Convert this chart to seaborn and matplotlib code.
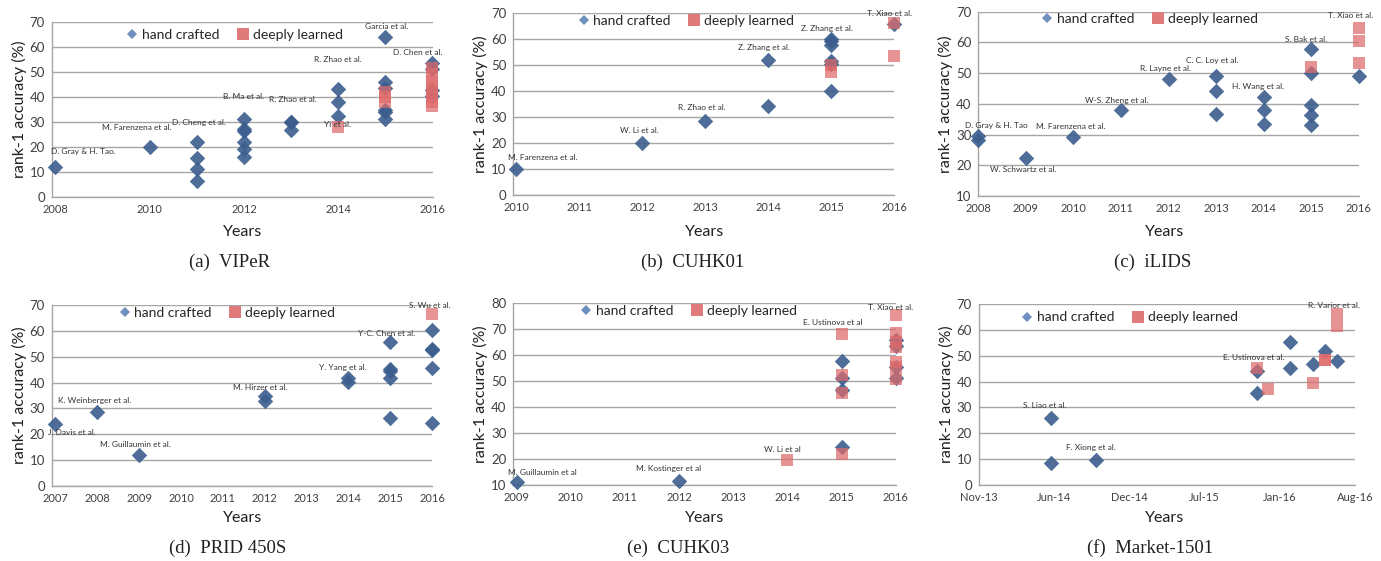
import numpy as np
import pandas as pd
import seaborn as sns
import matplotlib.pyplot as plt
import matplotlib.dates as mdates
from matplotlib.lines import Line2D

# ====================== DATA ======================
# (a) VIPeR
viper_hc_year = [2008, 2010, 2011, 2011, 2011, 2011, 2012, 2012, 2012, 2012, 2012, 2012,
                 2013, 2013, 2013, 2014, 2014, 2014, 2015, 2015, 2015, 2015, 2015, 2015,
                 2016, 2016, 2016, 2016]
viper_hc_acc = [12, 20, 21.8, 15.7, 11.3, 6.2, 31, 27, 26.5, 22, 19.3, 16,
                30, 29.8, 26.7, 43.3, 37.8, 32.2, 63.8, 46, 43.5, 34.8, 33.8, 31,
                53.6, 51, 42.7, 40.2]
viper_dl_year = [2014, 2015, 2015, 2015, 2016, 2016, 2016, 2016, 2016, 2016, 2016, 2016]
viper_dl_acc = [28, 42, 40, 38, 51.5, 49, 46.5, 44.5, 42.5, 40, 38, 36.5]
viper_notes = [("D. Gray & H. Tao.", 2008.6, 18.1), ("M. Farenzena et al.", 2009.73, 27.7),
               ("D. Cheng et al.", 2011.05, 29.7), ("B. Ma et al.", 2012.0, 40.1),
               ("R. Zhao et al.", 2013.03, 38.8), ("Yi et al.", 2013.98, 29.0),
               ("R. Zhao et al.", 2014.0, 54.8), ("Garcia et al.", 2015.02, 68.1),
               ("D. Chen et al.", 2015.7, 57.7)]

# (b) CUHK01
cuhk01_hc_year = [2010, 2012, 2013, 2014, 2014, 2015, 2015, 2015, 2015, 2015, 2015, 2016]
cuhk01_hc_acc = [10, 20, 28.4, 52, 34.3, 60.1, 59.5, 57.8, 51.8, 50.3, 40.2, 65.9]
cuhk01_dl_year = [2015, 2015, 2016, 2016]
cuhk01_dl_acc = [47.5, 50, 66.1, 53.6]
cuhk01_notes = [("M. Farenzena et al.", 2010.42, 14.5), ("W. Li et al.", 2011.96, 25),
                ("R. Zhao et al.", 2012.95, 33.8), ("Z. Zhang et al.", 2013.93, 56.7),
                ("Z. Zhang et al.", 2014.94, 64), ("T. Xiao et al.", 2015.93, 70)]

# (c) iLIDS
ilids_hc_year = [2008, 2008, 2009, 2010, 2011, 2012, 2013, 2013, 2013, 2014, 2014, 2014,
                 2015, 2015, 2015, 2015, 2015, 2016]
ilids_hc_acc = [29.5, 28.2, 22.3, 29.1, 37.9, 48, 49.1, 44.2, 36.8, 42.3, 38, 33.5,
                57.7, 50.1, 39.5, 36.5, 33.2, 49.2]
ilids_dl_year = [2015, 2016, 2016, 2016]
ilids_dl_acc = [52.1, 64.6, 60.5, 53.4]
ilids_notes = [("D. Gray & H. Tao", 2008.37, 33.1), ("W. Schwartz et al.", 2008.95, 18.5),
               ("M. Farenzena et al.", 2009.94, 32.6), ("W-S. Zheng et al.", 2010.91, 41.2),
               ("R. Layne et al.", 2011.93, 51.4), ("C. C. Loy et al.", 2012.91, 54),
               ("H. Wang et al.", 2013.89, 45.6), ("S. Bak et al.", 2014.89, 61),
               ("T. Xiao et al.", 2015.82, 68.7)]

# (d) PRID 450S
prid_hc_year = [2007, 2008, 2009, 2012, 2012, 2014, 2014, 2015, 2015, 2015, 2015, 2015,
                2016, 2016, 2016, 2016, 2016]
prid_hc_acc = [23.8, 28.7, 11.9, 34.8, 32.9, 41.6, 40.3, 55.6, 45.3, 44.5, 41.6, 26.3,
               60.3, 52.8, 52.5, 45.8, 24.5]
prid_dl_year = [2016]
prid_dl_acc = [66.5]
prid_notes = [("J. Davis et al.", 2007.39, 20.6), ("K. Weinberger et al.", 2007.93, 33.1),
              ("M. Guillaumin et al.", 2008.92, 16.2), ("M. Hirzer et al.", 2011.9, 38),
              ("Y. Yang et al.", 2013.88, 45.8), ("Y-C. Chen et al.", 2014.92, 59),
              ("S. Wu et al.", 2015.95, 70)]

# (e) CUHK03
cuhk03_hc_year = [2009, 2012, 2015, 2015, 2015, 2015, 2016, 2016, 2016, 2016]
cuhk03_hc_acc = [11, 11.7, 57.8, 51.1, 46.6, 24.5, 65.9, 63.6, 55.3, 51.1]
cuhk03_dl_year = [2014, 2015, 2015, 2015, 2015, 2016, 2016, 2016, 2016, 2016, 2016, 2016]
cuhk03_dl_acc = [19.6, 68.3, 52.4, 45.3, 21.9, 75.5, 68.4, 65.2, 63.3, 57.5, 55.3, 50.7]
cuhk03_notes = [("M. Guillaumin et al", 2009.47, 14.75), ("M. Kostinger et al", 2011.8, 16.2),
                ("W. Li et al", 2013.91, 23.7), ("E. Ustinova et al", 2014.83, 72.7),
                ("T. Xiao et al.", 2015.9, 78.5)]

# (f) Market-1501
market_hc_date = ["2014-06-05", "2014-06-05", "2014-10-01", "2015-11-24", "2015-11-24",
                  "2016-02-19", "2016-02-19", "2016-04-19", "2016-05-20", "2016-06-18"]
market_hc_acc = [26, 8.4, 9.7, 35.7, 44.1, 55.4, 45.1, 46.7, 52, 47.8]
market_dl_date = ["2015-11-24", "2015-12-22", "2016-04-19", "2016-05-20", "2016-05-20",
                  "2016-06-19", "2016-06-19"]
market_dl_acc = [45.4, 37.3, 39.3, 48.3, 48.3, 66.1, 61.6]
market_notes = [("S. Liao et al.", "2014-05-21", 30.9), ("F. Xiong et al.", "2014-09-18", 14.6),
                ("E. Ustinova et al.", "2015-11-15", 49.2), ("R. Varior et al.", "2016-06-11", 69.6)]
market_tick_dates = ["2013-11-30", "2014-06-13", "2014-12-26", "2015-07-10", "2016-01-22", "2016-08-05"]
market_tick_labels = ["Nov-13", "Jun-14", "Dec-14", "Jul-15", "Jan-16", "Aug-16"]

captions = ["(a)  VIPeR", "(b)  CUHK01", "(c)  iLIDS", "(d)  PRID 450S", "(e)  CUHK03", "(f)  Market-1501"]

# ====================== STYLE ======================
sns.set_style("white")
plt.rcParams["font.family"] = ["Lato", "DejaVu Sans"]

HC_COLOR = "#3B5E8E"
DL_COLOR = "#E06A6A"
GRID = "#A6A6A6"
W, H = 1381, 561

fig = plt.figure(figsize=(W / 100, H / 100), dpi=100)

# pixel boxes: left, right, top, bottom
panels = [
    dict(box=(51.7, 433.3, 22, 197), xlim=(2007.92, 2016.02), ylim=(0, 70), xt=list(range(2008, 2017, 2)),
         hc=(viper_hc_year, viper_hc_acc), dl=(viper_dl_year, viper_dl_acc), notes=viper_notes,
         leg=(0.48, 0.926), cap=(230, 262), years=(243, 232)),
    dict(box=(513.3, 894, 13.3, 195), xlim=(2009.95, 2016.0), ylim=(0, 70), xt=list(range(2010, 2017)),
         hc=(cuhk01_hc_year, cuhk01_hc_acc), dl=(cuhk01_dl_year, cuhk01_dl_acc), notes=cuhk01_notes,
         leg=(0.454, 0.959), cap=(693, 262), years=(705, 232)),
    dict(box=(978.3, 1358.7, 11.7, 196), xlim=(2008, 2016.0), ylim=(10, 70), xt=list(range(2008, 2017)),
         hc=(ilids_hc_year, ilids_hc_acc), dl=(ilids_dl_year, ilids_dl_acc), notes=ilids_notes,
         leg=(0.451, 0.959), cap=(1153, 262), years=(1165, 232)),
    dict(box=(51.7, 432, 305, 486), xlim=(2006.91, 2016.0), ylim=(0, 70), xt=list(range(2007, 2017)),
         hc=(prid_hc_year, prid_hc_acc), dl=(prid_dl_year, prid_dl_acc), notes=prid_notes,
         leg=(0.461, 0.957), cap=(228, 548), years=(243, 518)),
    dict(box=(513.3, 895.7, 303.3, 485), xlim=(2008.94, 2016.0), ylim=(10, 80), xt=list(range(2009, 2017)),
         hc=(cuhk03_hc_year, cuhk03_hc_acc), dl=(cuhk03_dl_year, cuhk03_dl_acc), notes=cuhk03_notes,
         leg=(0.459, 0.959), cap=(678, 548), years=(705, 518)),
]

mk_dates = lambda lst: mdates.date2num(pd.to_datetime(lst))
market_ticks = mk_dates(market_tick_dates)
panels.append(
    dict(box=(978.7, 1355, 304, 485), xlim=(market_ticks[0], market_ticks[-1]), ylim=(0, 70), xt=market_ticks,
         xtl=market_tick_labels,
         hc=(mk_dates(market_hc_date), market_hc_acc), dl=(mk_dates(market_dl_date), market_dl_acc),
         notes=[(t, mk_dates([d])[0], v) for t, d, v in market_notes],
         leg=(0.402, 0.926), cap=(1150, 548), years=(1165, 518))
)

leg_handles = [
    Line2D([], [], marker="D", linestyle="none", markersize=5.5, color="#6F8FBF", markeredgewidth=0),
    Line2D([], [], marker="s", linestyle="none", markersize=8.5, color="#E07B7B", markeredgewidth=0),
]

for p, cap in zip(panels, captions):
    l, r, t, b = p["box"]
    ax = fig.add_axes([l / W, 1 - b / H, (r - l) / W, (b - t) / H])
    sns.scatterplot(x=p["hc"][0], y=p["hc"][1], ax=ax, marker="D", s=62, color=HC_COLOR,
                    alpha=0.9, linewidth=0, clip_on=False, zorder=3, legend=False)
    sns.scatterplot(x=p["dl"][0], y=p["dl"][1], ax=ax, marker="s", s=78, color=DL_COLOR,
                    alpha=0.72, linewidth=0, clip_on=False, zorder=4, legend=False)
    ax.set_xlim(*p["xlim"])
    ax.set_ylim(*p["ylim"])
    ax.set_yticks(np.arange(p["ylim"][0], p["ylim"][1] + 1, 10))
    ax.set_xticks(p["xt"])
    if "xtl" in p:
        ax.set_xticklabels(p["xtl"])
    ax.yaxis.grid(True, color=GRID, linewidth=1.0)
    ax.xaxis.grid(False)
    ax.set_axisbelow(True)
    for s in ["top", "right"]:
        ax.spines[s].set_visible(False)
    for s in ["left", "bottom"]:
        ax.spines[s].set_color(GRID)
        ax.spines[s].set_linewidth(1.0)
    ax.tick_params(axis="x", labelsize=8, colors="#404040", length=3, width=0.8, color=GRID, pad=2)
    ax.tick_params(axis="y", labelsize=9.5, colors="#404040", length=3, width=0.8, color=GRID, pad=2)
    ax.set_ylabel("rank-1 accuracy (%)", fontsize=11.5, color="#202020", labelpad=2)
    ax.set_xlabel("")
    for txt, x, y in p["notes"]:
        ax.text(x, y, txt, fontsize=6, color="#333333", ha="center", va="center", zorder=5)
    ax.legend(handles=leg_handles, labels=["hand crafted", "deeply learned"], loc="center",
              bbox_to_anchor=p["leg"], ncol=2, frameon=False, fontsize=10, handlelength=0.8,
              handletextpad=0.3, columnspacing=1.3, borderpad=0)
    fig.text(p["years"][0] / W, 1 - p["years"][1] / H, "Years", fontsize=11.5, color="#202020",
             ha="center", va="center")
    fig.text(p["cap"][0] / W, 1 - p["cap"][1] / H, cap, fontsize=13.5, family="Liberation Serif",
             color="#202020", ha="center", va="center")

fig.savefig("out.png", dpi=100)
